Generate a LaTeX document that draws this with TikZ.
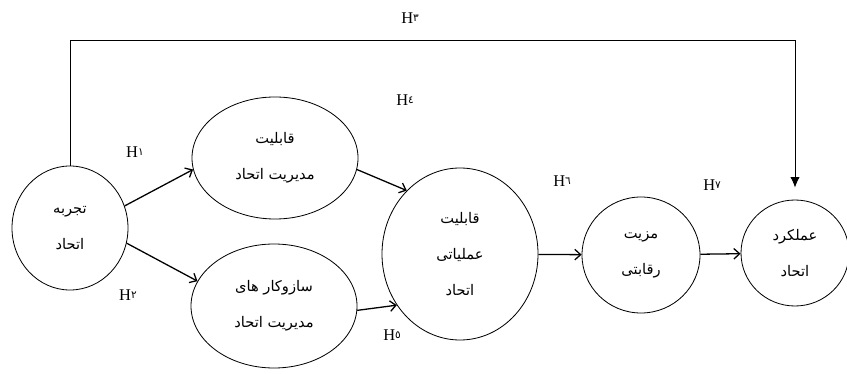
\documentclass[tikz,border=0pt]{standalone}
\usepackage{fontspec}
\setmainfont{Liberation Serif}
\newfontfamily\arabicfont[Script=Arabic]{DejaVu Sans}
\TeXXeTstate=1
\usetikzlibrary{shapes.geometric,arrows.meta}

\tikzset{
  construct/.style={draw,ellipse,inner sep=0pt,line width=0.7pt,align=center,
    font=\arabicfont\fontsize{12.5}{31}\selectfont},
  path arrow/.style={-{Straight Barb[length=5pt,width=9pt]},line width=1.1pt},
  hlabel/.style={font=\fontsize{14}{16}\selectfont}
}
\newcommand{\hyp}[1]{H\raisebox{0.3ex}{\arabicfont\fontsize{9}{9}\selectfont #1}}
\newcommand{\fa}[1]{\beginR #1\endR}

\begin{document}
\begin{tikzpicture}[x=0.03cm,y=-0.03cm]
\useasboundingbox (0,0) rectangle (847,374);
% constructs
\node[construct,minimum width=3.48cm,minimum height=3.72cm] (exp) at (70,228) {\fa{تجربه}\\\fa{اتحاد}};
\node[construct,minimum width=4.98cm,minimum height=3.66cm] (cap) at (275,158) {\fa{قابلیت}\\\fa{مدیریت اتحاد}};
\node[construct,minimum width=4.98cm,minimum height=3.72cm] (mech) at (274,306) {\fa{سازوکار های}\\\fa{مدیریت اتحاد}};
\node[construct,minimum width=4.68cm,minimum height=5.16cm] (opcap) at (460,254) {\fa{قابلیت}\\\fa{عملیاتی}\\\fa{اتحاد}};
\node[construct,minimum width=3.54cm,minimum height=3.48cm] (adv) at (641,255) {\fa{مزیت}\\\fa{رقابتی}};
\node[construct,minimum width=3.24cm,minimum height=3.18cm] (perf) at (795,253) {\fa{عملکرد}\\\fa{اتحاد}};
% hypotheses
\node[hlabel] (h1) at (135,152) {\hyp{١}};
\node[hlabel] (h2) at (128,295) {\hyp{٢}};
\node[hlabel] (h3) at (410,18) {\hyp{٣}};
\node[hlabel] (h4) at (405,100) {\hyp{٤}};
\node[hlabel] (h5) at (392,335) {\hyp{٥}};
\node[hlabel] (h6) at (562,181) {\hyp{٦}};
\node[hlabel] (h7) at (712,185) {\hyp{٧}};
% paths
\draw[path arrow] (exp.22) -- (cap.188);
\draw[path arrow] (exp.345) -- (mech.162);
\draw[path arrow] (cap.352) -- (opcap.130);
\draw[path arrow] (mech.357) -- (opcap.219);
\draw[path arrow] (opcap) -- (adv);
\draw[path arrow] (adv) -- (perf);
\coordinate (topleft) at (70,40);
\draw[-{Latex[length=9pt,width=8pt]},line width=0.8pt,shorten >=0.36cm] (exp.north) -- (topleft) -| (perf.north);
\end{tikzpicture}
\end{document}
